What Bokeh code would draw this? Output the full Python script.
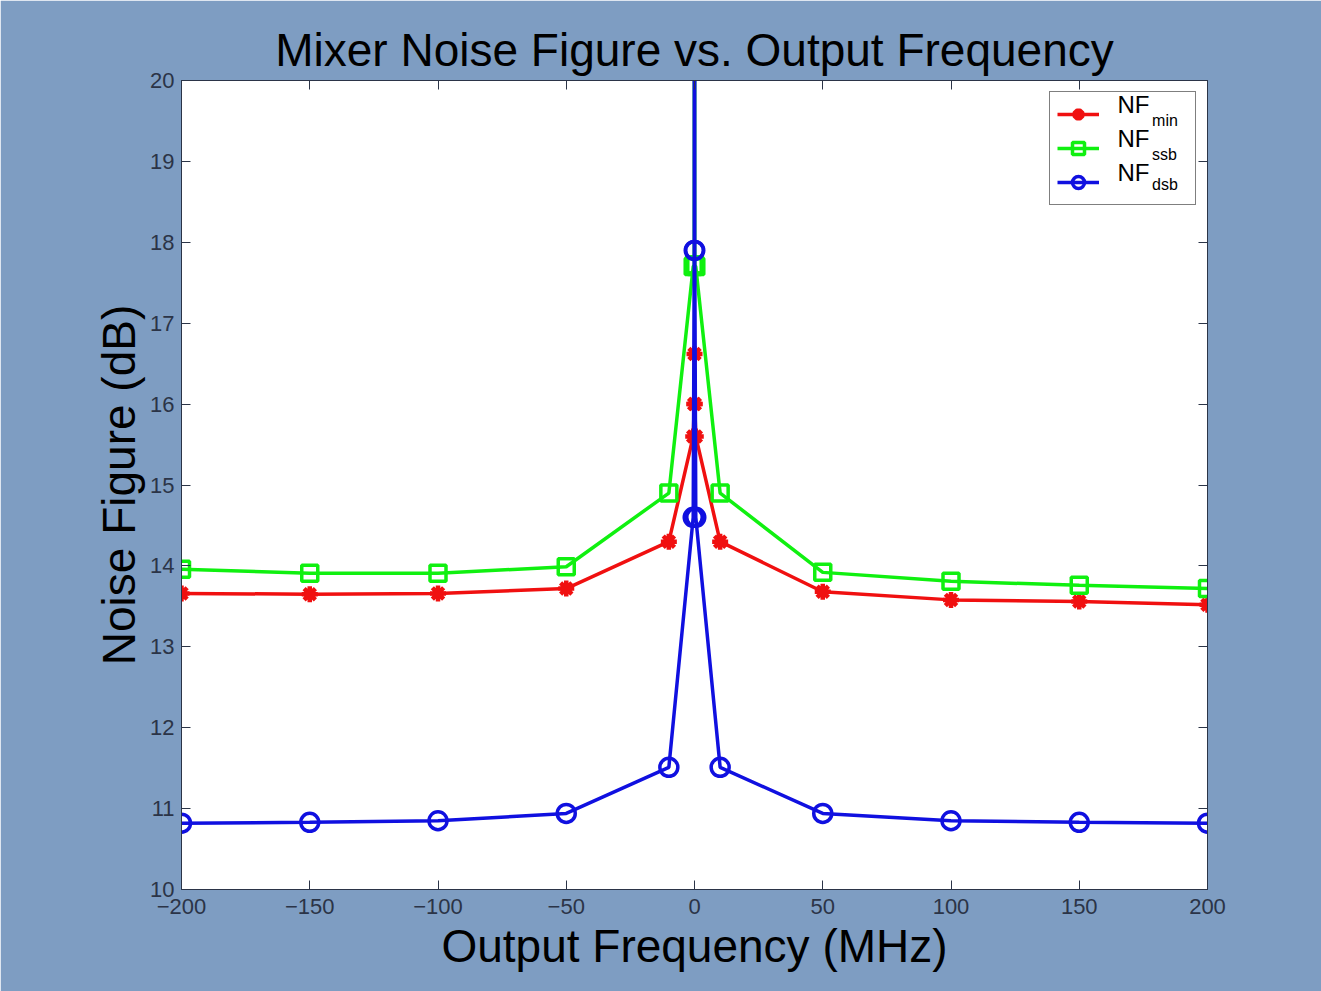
from bokeh.plotting import figure
from bokeh.models import LinearAxis, Range1d, Legend, LegendItem, FixedTicker
from bokeh.core.properties import value
from bokeh.embed import file_html
from bokeh.resources import INLINE

# ---- data ----
freq = [-200, -150, -100, -50, -10, -0.5, -0.1, 0, 0.1, 0.5, 10, 50, 100, 150, 200]
nf_min = [13.66, 13.65, 13.66, 13.72, 14.30, 15.60, 16.00, 16.62, 16.00, 15.60, 14.30, 13.68, 13.58, 13.56, 13.52]
nf_ssb = [13.96, 13.91, 13.91, 13.99, 14.90, 17.70, 17.72, 24.00, 17.72, 17.70, 14.90, 13.92, 13.81, 13.76, 13.72]
nf_dsb = [10.82, 10.83, 10.85, 10.94, 11.51, 14.60, 17.90, 40.00, 17.90, 14.60, 11.51, 10.94, 10.85, 10.83, 10.82]

x_ticks = [-200, -150, -100, -50, 0, 50, 100, 150, 200]
x_tick_labels = ["\u2212200", "\u2212150", "\u2212100", "\u221250", "0", "50", "100", "150", "200"]
y_ticks = [10, 11, 12, 13, 14, 15, 16, 17, 18, 19, 20]

series_names = ["NF", "NF", "NF"]
series_subs = ["min", "ssb", "dsb"]

BG = "#7e9dc2"
AX = "#2b3447"
FONT = "Liberation Sans"

p = figure(width=1321, height=991, output_backend="svg", toolbar_location=None,
           x_range=Range1d(-200, 200), y_range=Range1d(10, 20),
           min_border_left=181, min_border_right=114, min_border_top=80, min_border_bottom=102,
           x_axis_location=None, y_axis_location=None)
p.border_fill_color = BG
p.background_fill_color = "white"
p.outline_line_color = AX
p.xgrid.visible = False
p.ygrid.visible = False

p.title.text = "Mixer Noise Figure vs. Output Frequency"
p.title.align = "center"
p.title.text_font = FONT
p.title.text_font_size = "46px"
p.title.text_font_style = "normal"
p.title.text_color = "black"
p.title.standoff = 10

def style_axis(ax, labels=True):
    ax.major_tick_in = 9
    ax.major_tick_out = 0
    ax.minor_tick_line_color = None
    ax.axis_line_color = AX
    ax.major_tick_line_color = AX
    ax.major_label_text_font = FONT
    ax.major_label_text_font_size = "22px"
    ax.major_label_text_color = AX
    ax.axis_label_text_font = FONT
    ax.axis_label_text_font_size = "46px"
    ax.axis_label_text_font_style = "normal"
    ax.axis_label_text_color = "black"
    if not labels:
        ax.major_label_standoff = 0

xb = LinearAxis(ticker=FixedTicker(ticks=x_ticks), axis_label="Output Frequency (MHz)")
style_axis(xb)
xb.major_label_overrides = {t: l for t, l in zip(x_ticks, x_tick_labels)}
xb.major_label_standoff = 9
xb.axis_label_standoff = 3
p.add_layout(xb, "below")

xt = LinearAxis(ticker=FixedTicker(ticks=x_ticks))
style_axis(xt, labels=False)
xt.major_label_overrides = {t: "" for t in x_ticks}
p.add_layout(xt, "above")

yl = LinearAxis(ticker=FixedTicker(ticks=y_ticks), axis_label="Noise Figure (dB)")
style_axis(yl)
yl.major_label_standoff = 7
yl.axis_label_standoff = 2
p.add_layout(yl, "left")

yr = LinearAxis(ticker=FixedTicker(ticks=y_ticks))
style_axis(yr, labels=False)
yr.major_label_overrides = {t: "" for t in y_ticks}
p.add_layout(yr, "right")

RED, GREEN, BLUE = "#f01010", "#10f010", "#1010e0"

l1 = p.line(freq, nf_min, line_color=RED, line_width=3.5)
m1 = p.scatter(freq, nf_min, marker="asterisk", size=16, line_color=RED, line_width=4.5)
l2 = p.line(freq, nf_ssb, line_color=GREEN, line_width=3.5)
m2 = p.scatter(freq, nf_ssb, marker="square", size=16, line_color=GREEN, line_width=3.5, fill_color=None)
l3 = p.line(freq, nf_dsb, line_color=BLUE, line_width=3.5)
m3 = p.scatter(freq, nf_dsb, marker="circle", size=18, line_color=BLUE, line_width=3.5, fill_color=None)

legend = Legend(items=[
    LegendItem(label=series_names[0], renderers=[l1, m1]),
    LegendItem(label=series_names[1], renderers=[l2, m2]),
    LegendItem(label=series_names[2], renderers=[l3, m3]),
], location="top_right")
legend.margin = 11
legend.padding = 7
legend.spacing = 4
legend.glyph_width = 42
legend.glyph_height = 30
legend.label_width = 75
legend.label_standoff = 14
legend.label_text_font = FONT
legend.label_text_font_size = "24px"
legend.label_text_alpha = 0.0
legend.border_line_color = "black"
legend.border_line_width = 1
legend.background_fill_alpha = 0.0
p.add_layout(legend, "center")

# legend text drawn as glyphs so that the subscripts can be set below "NF"
nf_x = [164.9, 164.9, 164.9]
nf_y = [19.70, 19.28, 18.86]
sub_x = [178.4, 178.4, 178.4]
sub_y = [19.51, 19.09, 18.72]
p.text(x=nf_x, y=nf_y, text=series_names, text_font=value(FONT), text_font_size="24px",
       text_color="black", text_baseline="middle", text_align="left")
p.text(x=sub_x, y=sub_y, text=series_subs, text_font=value(FONT), text_font_size="16px",
       text_color="black", text_baseline="middle", text_align="left")

open("out.html", "w").write(file_html(p, INLINE))
